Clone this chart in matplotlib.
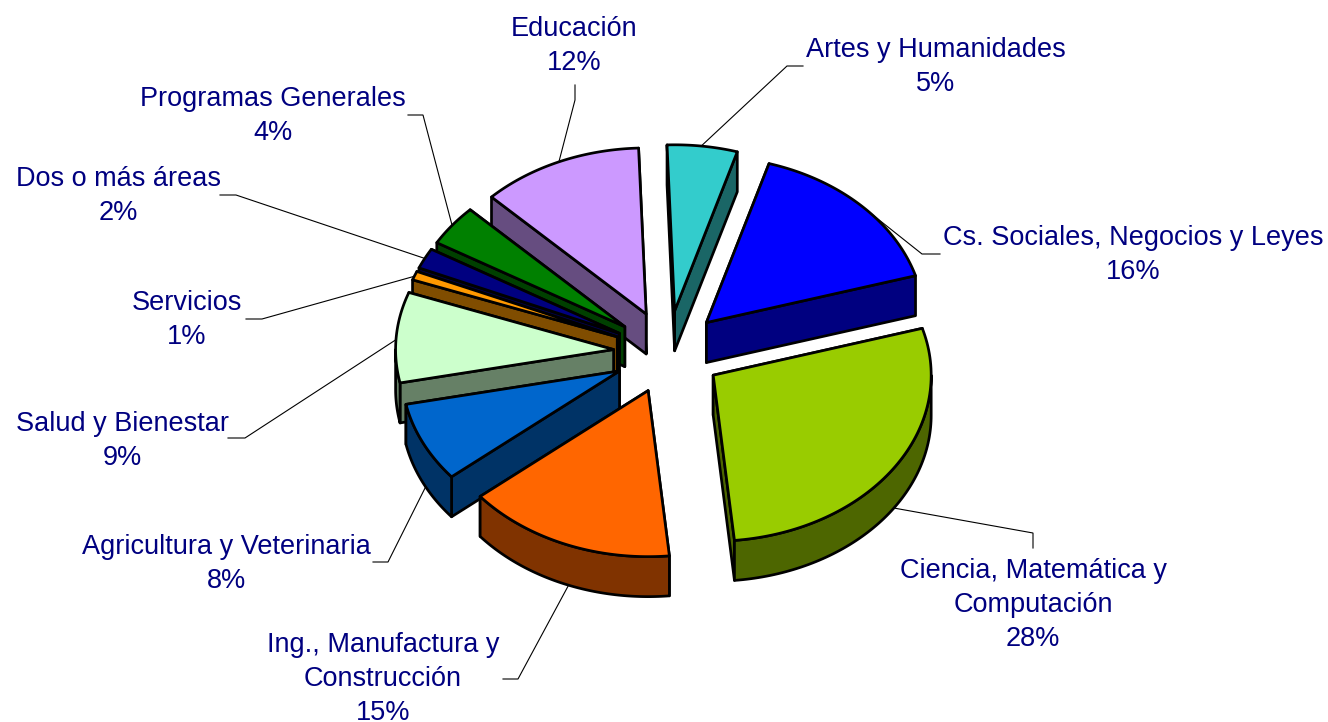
import numpy as np
import matplotlib
matplotlib.use("Agg")
import matplotlib.pyplot as plt
from matplotlib.patches import Polygon

# ---- data ----
categories = ["Artes y Humanidades", "Cs. Sociales, Negocios y Leyes",
              "Ciencia, Matemática y\nComputación", "Ing., Manufactura y\nConstrucción",
              "Agricultura y Veterinaria", "Salud y Bienestar", "Servicios",
              "Dos o más áreas", "Programas Generales", "Educación"]
values = [5, 16, 28, 15, 8, 9, 1, 2, 4, 12]
top_colors = ["#33CCCC", "#0000FF", "#99CC00", "#FF6600", "#0066CC",
              "#CCFFCC", "#FF9900", "#000080", "#008000", "#CC99FF"]
side_colors = ["#1A6666", "#000080", "#4D6600", "#803300", "#003366",
               "#668066", "#804D00", "#000040", "#004000", "#664D80"]

# ---- layout (pixels of the 1328x722 canvas) ----
W, H = 1328, 722
CX, CY = 668, 352
RX, RY = 218, 166
DEPTH = 40
EXPLODE = 0.25
START = -2
# small view-distortion correction of the slice boundaries, in degrees
EDGE_NUDGE = [0, 0.7, 0, 0, 2.0, 1.2, 0.5, 0, 0, 0, 0]
TEXT = "#000080"
FS = 19.5
# label anchor (centre x, y of first line) and leader: label end, knee
label_pos = [(936, 48), (1133, 236), (1033, 569), (383, 643), (226, 545),
             (122, 422), (187, 301), (118, 177), (273, 97), (574, 27)]
leader = [[(803, 66), (787, 66)], [(940, 254), (922, 254)], [(1033, 548), (1033, 533)],
          [(503, 679), (518, 679)], [(373, 562), (388, 562)], [(228, 438), (245, 438)],
          [(246, 319), (262, 319)], [(220, 195), (236, 195)], [(408, 115), (423, 115)],
          [(575, 85), (575, 100)]]

fig = plt.figure(figsize=(W / 100, H / 100), dpi=100)
ax = fig.add_axes([0, 0, 1, 1])
ax.set_xlim(0, W)
ax.set_ylim(H, 0)
ax.axis("off")
plt.rcParams["font.family"] = ["Liberation Sans", "DejaVu Sans"]
LW = 1.95


def pt(a, ox, oy, r=1.0):
    t = np.radians(a)
    return np.column_stack([ox + r * RX * np.sin(t), oy - r * RY * np.cos(t)])


edges = np.cumsum([0] + values) * 3.6 + START
mids = (edges[:-1] + edges[1:]) / 2
drawn = edges + np.array(EDGE_NUDGE)
order = np.argsort(-np.cos(np.radians(mids)))
z = 2
for i in order:
    a0, a1 = drawn[i], drawn[i + 1]
    mid = mids[i]
    ox, oy = pt(mid, CX, CY, EXPLODE)[0]
    arc = pt(np.linspace(a0, a1, 80), ox, oy)
    apex = np.array([ox, oy])
    lower = np.array([0, DEPTH])
    # radial walls, the back one first
    walls = []
    for p in (arc[0], arc[-1]):
        walls.append(np.array([apex, p, p + lower, apex + lower]))
    walls.sort(key=lambda w: w[:, 1].mean())
    for w in walls:
        ax.add_patch(Polygon(w, closed=True, fc=side_colors[i], ec="black", lw=LW,
                             joinstyle="round", zorder=z))
        z += 1
    # outer wall, front half only
    b0, b1 = max(a0, 90), min(a1, 270)
    if b1 > b0:
        s = pt(np.linspace(b0, b1, 80), ox, oy)
        ax.add_patch(Polygon(np.vstack([s, (s + lower)[::-1]]), closed=True, fc=side_colors[i],
                             ec="black", lw=LW, joinstyle="round", zorder=z))
        z += 1
    ax.add_patch(Polygon(np.vstack([apex, arc]), closed=True, fc=top_colors[i], ec="black",
                         lw=LW, joinstyle="round", zorder=z))
    z += 1

    # leader from the outer middle of the slice
    tip = pt(mid, ox, oy)[0]
    if np.cos(np.radians(mid)) < 0:
        tip = tip + lower
    xs = [leader[i][0][0], leader[i][1][0], tip[0]]
    ys = [leader[i][0][1], leader[i][1][1], tip[1]]
    ax.plot(xs, ys, color="black", lw=0.8, zorder=1, solid_joinstyle="miter")

    lx, ly = label_pos[i]
    ax.text(lx, ly - 11, f"{categories[i]}\n{values[i]}%", color=TEXT, fontsize=FS,
            ha="center", va="top", linespacing=1.39, family=["Liberation Sans", "DejaVu Sans"],
            zorder=z + 100)

fig.savefig("out.png", dpi=100, facecolor="white")
